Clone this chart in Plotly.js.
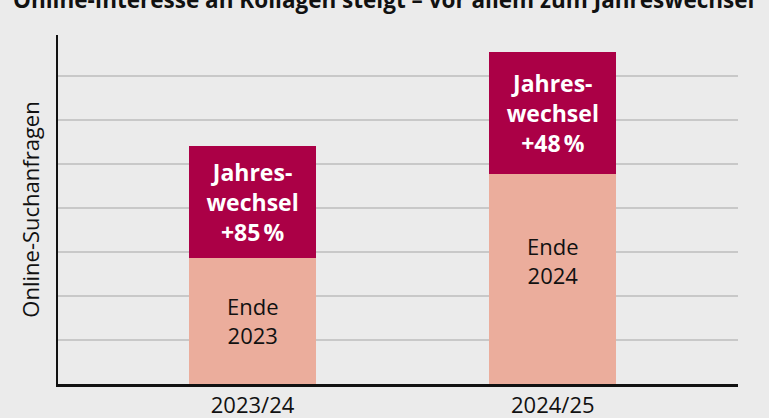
<!DOCTYPE html>
<html>
<head>
<meta charset="utf-8">
<script src="https://cdn.plot.ly/plotly-3.0.1.min.js"></script>
<style>
html,body{margin:0;padding:0;background:#ebebeb;}
#chart{width:769px;height:418px;}
</style>
</head>
<body>
<div id="chart"></div>
<script>
// ---- data ----
const seasons = ["2023/24", "2024/25"];
const endeLabels = ["Ende<br>2023", "Ende<br>2024"];
const endeValues = [2.87, 4.78];          // search volume at year end
const totalValues = [5.41, 7.55];         // search volume at turn of the year
const growthLabels = ["+85\u202F%", "+48\u202F%"];

// ---- derived ----
const increments = totalValues.map((v, i) => v - endeValues[i]);
const upperText = growthLabels.map(g => "Jahres-<br>wechsel<br>" + g);

const FONT = "Open Sans, Noto Sans, DejaVu Sans, sans-serif";
const labelFrac = [0.5, 0.585];

const traces = [
  {
    type: "bar",
    x: seasons,
    y: endeValues,
    width: 0.423,
    marker: {color: "#ebad9c", line: {width: 0}},
    hoverinfo: "skip",
    showlegend: false
  },
  {
    type: "bar",
    x: seasons,
    y: increments,
    width: 0.423,
    marker: {color: "#ab0046", line: {width: 0}},
    text: upperText,
    textposition: "inside",
    insidetextanchor: "middle",
    textangle: 0,
    textfont: {family: FONT, size: 23, color: "#ffffff", weight: 700},
    hoverinfo: "skip",
    showlegend: false
  }
];

const annotations = seasons.map((s, i) => ({
  x: s, y: endeValues[i] * labelFrac[i], xref: "x", yref: "y",
  text: endeLabels[i], showarrow: false,
  font: {family: FONT, size: 22, color: "#111111"},
  align: "center"
}));
annotations.push({
  x: 0.478, xref: "paper", y: 1, yref: "paper", yanchor: "bottom", yshift: 18,
  text: "Online-Interesse an Kollagen steigt – vor allem zum Jahreswechsel",
  showarrow: false,
  font: {family: FONT, size: 22.5, color: "#111111", weight: 700}
});

const layout = {
  width: 769, height: 418,
  paper_bgcolor: "#ebebeb",
  plot_bgcolor: "#ebebeb",
  margin: {l: 58, r: 31, t: 35, b: 34, pad: 0},
  barmode: "stack",
  font: {family: FONT, color: "#111111"},
  xaxis: {
    type: "category",
    range: [-0.648, 1.617],
    showline: true, linecolor: "#111111", linewidth: 2.5,
    showgrid: false, zeroline: false,
    ticks: "",
    tickfont: {family: FONT, size: 22, color: "#111111"},
    fixedrange: true
  },
  yaxis: {
    range: [0, 7.93],
    dtick: 1,
    showticklabels: false,
    ticks: "",
    showgrid: true, gridcolor: "#c8c8c8", gridwidth: 1.5,
    zeroline: false,
    showline: true, linecolor: "#111111", linewidth: 2.5,
    title: {text: "Online-Suchanfragen", font: {family: FONT, size: 22, color: "#111111"}, standoff: 10},
    fixedrange: true
  },
  annotations: annotations,
  showlegend: false
};

Plotly.newPlot("chart", traces, layout, {displayModeBar: false, staticPlot: true});
</script>
</body>
</html>
